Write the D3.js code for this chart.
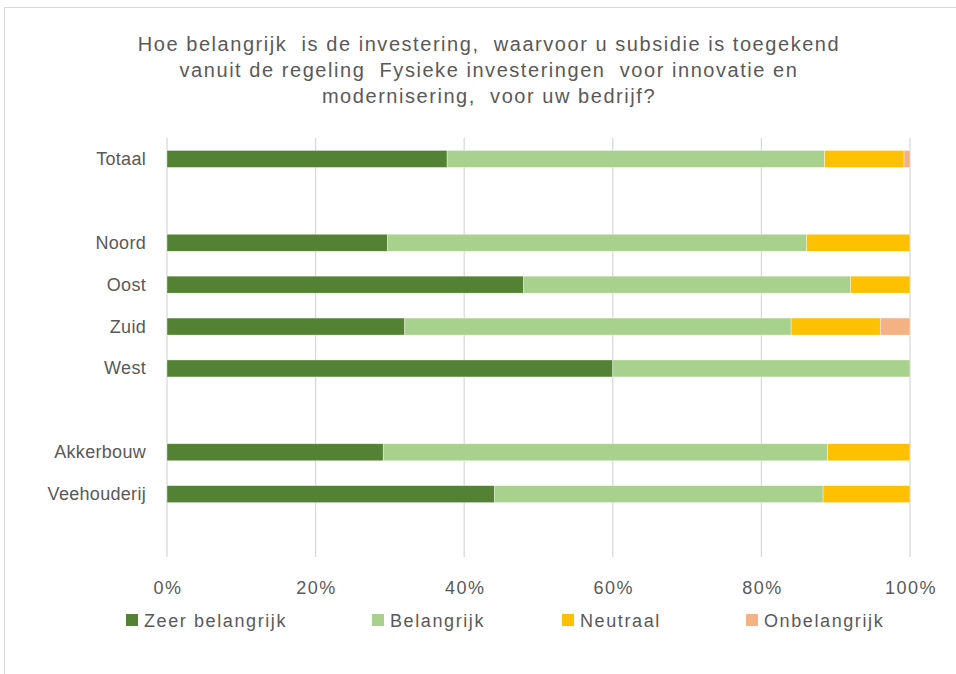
<!DOCTYPE html>
<html>
<head>
<meta charset="utf-8">
<script src="https://cdn.jsdelivr.net/npm/d3@7"></script>
<style>
  body { margin: 0; background: #fff; }
  text { font-family: "Liberation Sans", Arial, sans-serif; fill: #595959; }
</style>
</head>
<body>
<script>
// categories (blank slots are spacers between the groups)
var categories = ["Totaal", "_1", "Noord", "Oost", "Zuid", "West", "_2", "Akkerbouw", "Veehouderij", "_3"];
var labels = ["Totaal", "", "Noord", "Oost", "Zuid", "West", "", "Akkerbouw", "Veehouderij", ""];
var series = ["Zeer belangrijk", "Belangrijk", "Neutraal", "Onbelangrijk"];
var colors = ["#548235", "#a9d18e", "#ffc000", "#f4b183"];

// percentages per category, null = empty row
var zeerBelangrijk = [37.7, null, 29.7, 48.0, 32.0, 60.0, null, 29.1, 44.1, null];
var belangrijk     = [50.8, null, 56.4, 44.0, 52.0, 40.0, null, 59.8, 44.2, null];
var neutraal       = [10.7, null, 13.9,  8.0, 12.0,  0.0, null, 11.1, 11.7, null];
var onbelangrijk   = [ 0.8, null,  0.0,  0.0,  4.0,  0.0, null,  0.0,  0.0, null];
var ticks = [0, 20, 40, 60, 80, 100];

var title = ["Hoe belangrijk  is de investering,  waarvoor u subsidie is toegekend",
             "vanuit de regeling  Fysieke investeringen  voor innovatie en",
             "modernisering,  voor uw bedrijf?"];

var W = 956, H = 674;
var svg = d3.select("body").append("svg").attr("width", W).attr("height", H);

svg.append("rect").attr("x", 4.5).attr("y", 7.5).attr("width", 980).attr("height", 700)
    .attr("fill", "none").attr("stroke", "#d9d9d9");

svg.selectAll(".title").data(title).enter().append("text")
    .attr("x", 489).attr("y", function(d, i) { return 51 + i * 26; })
    .attr("text-anchor", "middle").attr("font-size", "20px")
    .attr("letter-spacing", "1.55px").style("white-space", "pre")
    .text(function(d) { return d; });

var x = d3.scaleLinear().domain([0, 100]).range([167, 910]);
var y = d3.scaleBand().domain(categories).range([138, 557]).paddingInner(0.6).paddingOuter(0.3);

svg.append("g").selectAll("line").data(ticks).enter().append("line")
    .attr("x1", function(d) { return x(d); }).attr("x2", function(d) { return x(d); })
    .attr("y1", 138).attr("y2", 557)
    .attr("stroke", "#d9d9d9").attr("stroke-width", 1.3);

var rows = categories.map(function(c, i) {
    return { cat: c, vals: [zeerBelangrijk[i], belangrijk[i], neutraal[i], onbelangrijk[i]] };
}).filter(function(r) { return r.vals[0] !== null; });

var segs = [];
rows.forEach(function(r) {
    var acc = 0;
    r.vals.forEach(function(v, k) {
        if (v > 0) segs.push({ cat: r.cat, x0: acc, x1: acc + v, k: k });
        acc += v;
    });
});

var bh = 17;
svg.append("g").selectAll("rect").data(segs).enter().append("rect")
    .attr("x", function(d) { return x(d.x0); })
    .attr("width", function(d) { return x(d.x1) - x(d.x0); })
    .attr("y", function(d) { return y(d.cat) + y.bandwidth() / 2 - bh / 2; })
    .attr("height", bh)
    .attr("fill", function(d) { return colors[d.k]; })
    .attr("stroke", "#ffffff").attr("stroke-width", 0.6).attr("stroke-opacity", 0.6);

svg.append("g").selectAll("text").data(categories).enter().append("text")
    .attr("x", 146).attr("y", function(d) { return y(d) + y.bandwidth() / 2 + 6; })
    .attr("text-anchor", "end").attr("font-size", "18px").attr("letter-spacing", "0.3px")
    .text(function(d, i) { return labels[i]; });

svg.append("g").selectAll("text").data(ticks).enter().append("text")
    .attr("x", function(d) { return x(d) + 1; }).attr("y", 594)
    .attr("text-anchor", "middle").attr("font-size", "18px").attr("letter-spacing", "1.5px")
    .text(function(d) { return d + "%"; });

var legX = [126, 372, 562, 746];
var leg = svg.append("g").selectAll("g").data(series).enter().append("g")
    .attr("transform", function(d, i) { return "translate(" + legX[i] + ",620)"; });
leg.append("rect").attr("x", 0).attr("y", -6).attr("width", 12).attr("height", 12)
    .attr("fill", function(d, i) { return colors[i]; });
leg.append("text").attr("x", 18).attr("y", 6.5).attr("font-size", "18px")
    .attr("letter-spacing", "1.6px")
    .text(function(d) { return d; });
</script>
</body>
</html>
